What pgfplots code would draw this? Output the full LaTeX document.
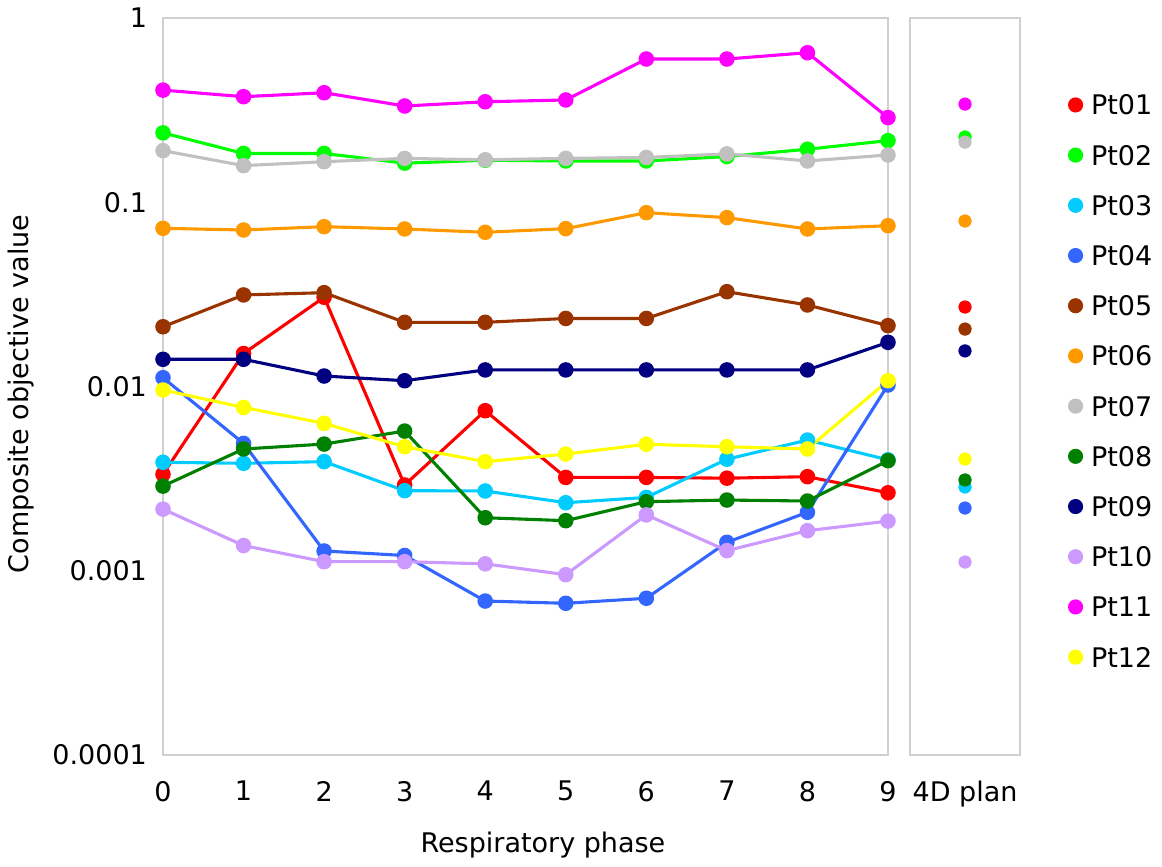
\documentclass[border=0pt]{standalone}
\usepackage{fontspec}
\setmainfont{DejaVu Sans}
\usepackage{pgfplots}
\usepackage{pgfplotstable}
\pgfplotsset{compat=1.18}

\definecolor{c01}{HTML}{FF0000}
\definecolor{c02}{HTML}{00FF00}
\definecolor{c03}{HTML}{00CCFF}
\definecolor{c04}{HTML}{3366FF}
\definecolor{c05}{HTML}{993300}
\definecolor{c06}{HTML}{FF9900}
\definecolor{c07}{HTML}{C0C0C0}
\definecolor{c08}{HTML}{008000}
\definecolor{c09}{HTML}{000080}
\definecolor{c10}{HTML}{CC99FF}
\definecolor{c11}{HTML}{FF00FF}
\definecolor{c12}{HTML}{FFFF00}
\definecolor{framegray}{HTML}{D0D0D0}

% objective value per respiratory phase
\pgfplotstableread{
ph Pt01 Pt02 Pt03 Pt04 Pt05 Pt06 Pt07 Pt08 Pt09 Pt10 Pt11 Pt12
0 0.00334 0.238 0.00388 0.01116 0.0211 0.0722 0.1905 0.00288 0.01405 0.00216 0.406 0.00957
1 0.0151 0.184 0.00383 0.00491 0.0314 0.0707 0.158 0.00458 0.01405 0.00137 0.374 0.0077
2 0.0305 0.184 0.00391 0.00128 0.0323 0.0737 0.166 0.00487 0.0114 0.00112 0.393 0.00631
3 0.00292 0.163 0.00272 0.00121 0.0223 0.0716 0.173 0.00573 0.01075 0.00112 0.333 0.00471
4 0.00739 0.169 0.00271 0.000685 0.0223 0.0687 0.170 0.00194 0.0123 0.00109 0.351 0.00391
5 0.00321 0.1675 0.00234 0.000666 0.0234 0.0719 0.173 0.00187 0.0123 0.000952 0.359 0.0043
6 0.00321 0.1675 0.0025 0.000709 0.0234 0.0878 0.175 0.00237 0.0123 0.00201 0.599 0.00486
7 0.00318 0.177 0.00403 0.001427 0.0327 0.0825 0.183 0.00242 0.0123 0.001286 0.599 0.00471
8 0.00324 0.194 0.00512 0.002077 0.0277 0.0716 0.1675 0.00239 0.0123 0.00165 0.648 0.00458
9 0.00265 0.216 0.0040 0.01019 0.0214 0.0746 0.1805 0.00396 0.01737 0.00186 0.288 0.01075
}\phases

% objective value of the 4D plan
\pgfplotstableread{
ph Pt01 Pt02 Pt03 Pt04 Pt05 Pt06 Pt07 Pt08 Pt09 Pt10 Pt11 Pt12
1 0.027 0.226 0.00285 0.00219 0.0205 0.0791 0.212 0.00311 0.0156 0.001115 0.341 0.00404
}\plan

\pgfplotsset{
  myser/.style={color=#1, line width=1.55pt, mark=*, mark size=3.1pt, mark options={solid, fill=#1, draw=#1}},
  mydot/.style={color=#1, only marks, mark=*, mark size=3.1pt, mark options={fill=#1, draw=#1}},
}

\begin{document}
\begin{tikzpicture}
\path[use as bounding box] (0,0) rectangle (581pt,433.5pt);

\begin{axis}[
  scale only axis,
  at={(81.5pt,56pt)}, anchor=south west,
  width=362.5pt, height=368.5pt,
  ymode=log, ymin=0.0001, ymax=1,
  xmin=0, xmax=9,
  axis line style={draw=framegray, line width=0.75pt},
  major tick length=0pt, minor tick length=0pt,
  yminorticks=false,
  tick label style={font=\fontsize{13.5}{16}\selectfont},
  xticklabel style={yshift=-9.5pt},
  clip=false,
  xtick={0,1,2,3,4,5,6,7,8,9},
  xticklabels={0,1,2,3,4,5,6,7,8,9},
  ytick={0.0001,0.001,0.01,0.1,1},
  yticklabels={0.0001,0.001,0.01,0.1,1},
  yticklabel style={xshift=-4.5pt},
  xlabel={Respiratory phase},
  ylabel={Composite objective value},
  label style={font=\fontsize{13.5}{16}\selectfont},
  xlabel style={at={(axis description cs:0.524,-0.122)}, anchor=center},
  ylabel style={at={(axis description cs:-0.196,0.49)}, anchor=center},
  legend cell align=left,
  legend style={draw=none, fill=none, inner sep=0pt, outer sep=0pt,
    at={(axis description cs:1.2483,0.8956)}, anchor=north west,
    row sep=15.1pt, column sep=4pt,
    font=\fontsize{13.5}{16}\selectfont,
    nodes={inner sep=0pt, text height=10pt, text depth=0pt}},
  legend image code/.code={\path[draw=none, fill=none] (0pt,-5pt) rectangle (6pt,5pt); \fill (3pt,0pt) circle (3pt);},
]
\addplot[myser=c01] table[x=ph,y=Pt01] {\phases};
\addlegendentry{Pt01}
\addplot[myser=c02] table[x=ph,y=Pt02] {\phases};
\addlegendentry{Pt02}
\addplot[myser=c03] table[x=ph,y=Pt03] {\phases};
\addlegendentry{Pt03}
\addplot[myser=c04] table[x=ph,y=Pt04] {\phases};
\addlegendentry{Pt04}
\addplot[myser=c05] table[x=ph,y=Pt05] {\phases};
\addlegendentry{Pt05}
\addplot[myser=c06] table[x=ph,y=Pt06] {\phases};
\addlegendentry{Pt06}
\addplot[myser=c07] table[x=ph,y=Pt07] {\phases};
\addlegendentry{Pt07}
\addplot[myser=c08] table[x=ph,y=Pt08] {\phases};
\addlegendentry{Pt08}
\addplot[myser=c09] table[x=ph,y=Pt09] {\phases};
\addlegendentry{Pt09}
\addplot[myser=c10] table[x=ph,y=Pt10] {\phases};
\addlegendentry{Pt10}
\addplot[myser=c11] table[x=ph,y=Pt11] {\phases};
\addlegendentry{Pt11}
\addplot[myser=c12] table[x=ph,y=Pt12] {\phases};
\addlegendentry{Pt12}
\end{axis}

\begin{axis}[
  scale only axis,
  at={(455pt,56pt)}, anchor=south west,
  width=55pt, height=368.5pt,
  ymode=log, ymin=0.0001, ymax=1,
  xmin=0, xmax=2,
  axis line style={draw=framegray, line width=0.75pt},
  major tick length=0pt, minor tick length=0pt,
  yminorticks=false,
  tick label style={font=\fontsize{13.5}{16}\selectfont},
  xticklabel style={yshift=-9.5pt},
  clip=false,
  xtick={1}, xticklabels={4D plan},
  ytick=\empty,
]
\addplot[mydot=c01] table[x=ph,y=Pt01] {\plan};
\addplot[mydot=c02] table[x=ph,y=Pt02] {\plan};
\addplot[mydot=c03] table[x=ph,y=Pt03] {\plan};
\addplot[mydot=c04] table[x=ph,y=Pt04] {\plan};
\addplot[mydot=c05] table[x=ph,y=Pt05] {\plan};
\addplot[mydot=c06] table[x=ph,y=Pt06] {\plan};
\addplot[mydot=c07] table[x=ph,y=Pt07] {\plan};
\addplot[mydot=c08] table[x=ph,y=Pt08] {\plan};
\addplot[mydot=c09] table[x=ph,y=Pt09] {\plan};
\addplot[mydot=c10] table[x=ph,y=Pt10] {\plan};
\addplot[mydot=c11] table[x=ph,y=Pt11] {\plan};
\addplot[mydot=c12] table[x=ph,y=Pt12] {\plan};
\end{axis}
\end{tikzpicture}
\end{document}
